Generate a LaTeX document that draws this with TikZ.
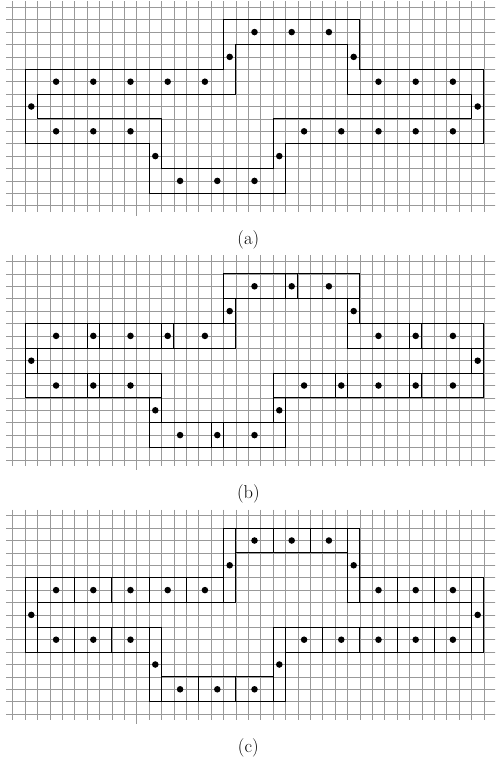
\documentclass[tikz,border=0pt]{standalone}
\usepackage{tikz}

\begin{document}
\begin{tikzpicture}[x=0.4cm, y=0.4cm,
    gridline/.style={line width=0.6pt, black!40},
    outline/.style={line width=1pt, black, line join=miter},
    caption/.style={font=\fontsize{17}{20}\selectfont}]
    \useasboundingbox (-1.024,-61.105) rectangle (38.896,0.589);
    \clip (-1.024,-61.105) rectangle (38.896,0.589);

    % Three panels: grid, outline, dots, label
    \foreach \dy/\lab in {0/a, -20.5/b, -41/c} {
      \begin{scope}[shift={(0,\dy)}]
        % Grid
        \foreach \c in {0,...,38}
          \draw[gridline] (\c,0.5) -- (\c,-16.5);
        \foreach \r in {0,...,16}
          \draw[gridline] (-0.5,-\r) -- (39.5,-\r);
        \draw[gridline] (10,-16.5) -- (10,-16.8);

        % Outline of the ring
        \draw[outline] (1,-5) -- (17,-5) -- (17,-1) -- (28,-1) -- (28,-5) -- (38,-5)
          -- (38,-11) -- (22,-11) -- (22,-15) -- (11,-15) -- (11,-11) -- (1,-11) -- cycle
          (2,-7) -- (18,-7) -- (18,-3) -- (27,-3) -- (27,-7) -- (37,-7)
          -- (37,-9) -- (21,-9) -- (21,-13) -- (12,-13) -- (12,-9) -- (2,-9) -- cycle;

        % Dots
        \foreach \x/\y in {3.5/6, 6.5/6, 9.5/6, 12.5/6, 15.5/6, 17.5/4,
            19.5/2, 22.5/2, 25.5/2, 27.5/4, 29.5/6, 32.5/6, 35.5/6, 37.5/8,
            23.5/10, 26.5/10, 29.5/10, 32.5/10, 35.5/10, 21.5/12,
            13.5/14, 16.5/14, 19.5/14, 11.5/12, 3.5/10, 6.5/10, 9.5/10, 1.5/8}
          \fill (\x,-\y) circle (3pt);

        \node[caption] (cap\lab) at (19,-18.75) {(\lab)};
      \end{scope}
    }

    % Panel (b): long and short pieces
    \begin{scope}[shift={(0,-20.5)}]
      \foreach \xa/\xb/\ya/\yb in {1/6/5/7, 6/7/5/7, 7/12/5/7, 12/13/5/7, 13/18/5/7,
          17/18/3/5, 17/22/1/3, 22/23/1/3, 23/28/1/3, 27/28/3/5,
          27/32/5/7, 32/33/5/7, 33/38/5/7, 37/38/7/9,
          21/26/9/11, 26/27/9/11, 27/32/9/11, 32/33/9/11, 33/38/9/11,
          21/22/11/13, 11/16/13/15, 16/17/13/15, 17/22/13/15, 11/12/11/13,
          1/6/9/11, 6/7/9/11, 7/12/9/11, 1/2/7/9}
        \draw[outline] (\xa,-\ya) rectangle (\xb,-\yb);
    \end{scope}

    % Panel (c): strips and blocks
    \begin{scope}[shift={(0,-41)}]
      \foreach \xa/\xb/\ya/\yb in {1/2/5/11, 17/18/1/7, 27/28/1/7, 37/38/5/11,
          21/22/9/15, 11/12/9/15,
          2/5/5/7, 5/8/5/7, 8/11/5/7, 11/14/5/7, 14/17/5/7,
          18/21/1/3, 21/24/1/3, 24/27/1/3,
          28/31/5/7, 31/34/5/7, 34/37/5/7,
          22/25/9/11, 25/28/9/11, 28/31/9/11, 31/34/9/11, 34/37/9/11,
          12/15/13/15, 15/18/13/15, 18/21/13/15,
          2/5/9/11, 5/8/9/11, 8/11/9/11}
        \draw[outline] (\xa,-\ya) rectangle (\xb,-\yb);
    \end{scope}
\end{tikzpicture}
\end{document}
